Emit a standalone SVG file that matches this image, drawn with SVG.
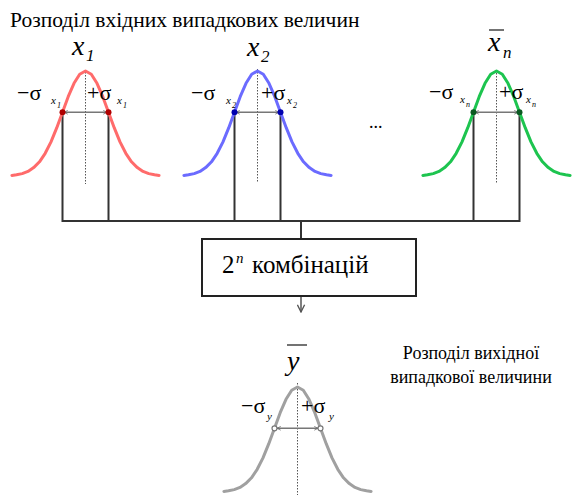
<svg xmlns="http://www.w3.org/2000/svg" width="572" height="495" viewBox="0 0 572 495" font-family="Liberation Serif, serif">
<defs>
<path id="gauss" d="M-73.6,-0.6 L-69,-1.2 L-63.3,-2.4 L-57.5,-4.6 L-51.8,-8.4 L-46,-14.2 L-40.3,-22.7 L-34.5,-34.1 L-28.8,-48.1 L-23,-63.7 L-17.3,-79.3 L-11.5,-92.7 L-5.8,-101.8 L0,-105 L5.8,-101.8 L11.5,-92.7 L17.3,-79.3 L23,-63.7 L28.8,-48.1 L34.5,-34.1 L40.3,-22.7 L46,-14.2 L51.8,-8.4 L57.5,-4.6 L63.3,-2.4 L69,-1.2 L73.6,-0.6"/>
<marker id="ahe" viewBox="0 0 8 8" refX="7" refY="4" markerWidth="5" markerHeight="5" orient="auto" markerUnits="userSpaceOnUse">
<path d="M1,1 L7,4 L1,7" fill="none" stroke="#666" stroke-width="1.2"/>
</marker>
<marker id="ahs" viewBox="0 0 8 8" refX="1" refY="4" markerWidth="5" markerHeight="5" orient="auto" markerUnits="userSpaceOnUse">
<path d="M7,1 L1,4 L7,7" fill="none" stroke="#666" stroke-width="1.2"/>
</marker>
<marker id="arr" viewBox="0 0 10 10" refX="9" refY="5" markerWidth="9" markerHeight="9" orient="auto" markerUnits="userSpaceOnUse">
<path d="M1,1 L9,5 L1,9" fill="none" stroke="#555" stroke-width="1.5"/>
</marker>
</defs>

<text id="title" x="10" y="27" font-family="Liberation Serif, serif" font-size="21.5">Розподіл вхідних випадкових величин</text>

<g id="connectors" fill="none" stroke="#333" stroke-width="2">
<polyline points="62.5,112 62.5,221 519.5,221 519.5,112"/>
<line x1="108.5" y1="112" x2="108.5" y2="221"/>
<line x1="234.5" y1="112" x2="234.5" y2="221"/>
<line x1="280.5" y1="112" x2="280.5" y2="221"/>
<line x1="473.5" y1="112" x2="473.5" y2="221"/>
<line x1="301" y1="221" x2="301" y2="239"/>
<line x1="301" y1="297" x2="301" y2="312" stroke="#555" stroke-width="1.5" marker-end="url(#arr)"/>
</g>

<g id="x1">
<line x1="85.5" y1="72" x2="85.5" y2="184" stroke="#555" stroke-width="1" stroke-dasharray="1.5 1.5"/>
<use href="#gauss" transform="translate(85.5,176)" fill="none" stroke="#FF6B6B" stroke-width="3" stroke-linejoin="round" stroke-linecap="round"/>
<line x1="64" y1="112.3" x2="107" y2="112.3" stroke="#777" stroke-width="1.6" marker-start="url(#ahs)" marker-end="url(#ahe)"/>
<circle cx="62.5" cy="112.3" r="3" fill="#B00000"/>
<circle cx="108.5" cy="112.3" r="3" fill="#B00000"/>
<text x="72" y="55" font-family="Liberation Serif, serif" font-size="28" font-style="italic">x</text>
<text x="86" y="61" font-family="Liberation Serif, serif" font-size="17" font-style="italic">1</text>
<text x="17" y="100" font-family="Liberation Serif, serif" font-size="22">−σ</text>
<text x="51" y="104" font-family="Liberation Serif, serif" font-size="11" font-style="italic">x</text>
<text x="57" y="108" font-family="Liberation Serif, serif" font-size="8" font-style="italic">1</text>
<text x="87" y="100" font-family="Liberation Serif, serif" font-size="22">+σ</text>
<text x="117" y="104" font-family="Liberation Serif, serif" font-size="11" font-style="italic">x</text>
<text x="123" y="108" font-family="Liberation Serif, serif" font-size="8" font-style="italic">1</text>
</g>

<g id="x2">
<line x1="257.5" y1="69" x2="257.5" y2="183" stroke="#555" stroke-width="1" stroke-dasharray="1.5 1.5"/>
<use href="#gauss" transform="translate(257.5,176)" fill="none" stroke="#6B6BFF" stroke-width="3" stroke-linejoin="round" stroke-linecap="round"/>
<line x1="236" y1="112.3" x2="279" y2="112.3" stroke="#777" stroke-width="1.6" marker-start="url(#ahs)" marker-end="url(#ahe)"/>
<circle cx="234.5" cy="112.3" r="3" fill="#0000B0"/>
<circle cx="280.5" cy="112.3" r="3" fill="#0000B0"/>
<text x="247" y="56" font-family="Liberation Serif, serif" font-size="28" font-style="italic">x</text>
<text x="261" y="62" font-family="Liberation Serif, serif" font-size="17" font-style="italic">2</text>
<text x="191" y="100" font-family="Liberation Serif, serif" font-size="22">−σ</text>
<text x="226" y="104" font-family="Liberation Serif, serif" font-size="11" font-style="italic">x</text>
<text x="232" y="108" font-family="Liberation Serif, serif" font-size="8" font-style="italic">2</text>
<text x="261" y="100" font-family="Liberation Serif, serif" font-size="22">+σ</text>
<text x="287" y="104" font-family="Liberation Serif, serif" font-size="11" font-style="italic">x</text>
<text x="293" y="108" font-family="Liberation Serif, serif" font-size="8" font-style="italic">2</text>
</g>

<text id="ellipsis" x="369" y="128" font-family="Liberation Serif, serif" font-size="18">...</text>

<g id="xn">
<line x1="496.5" y1="70" x2="496.5" y2="184" stroke="#555" stroke-width="1" stroke-dasharray="1.5 1.5"/>
<use href="#gauss" transform="translate(496.5,176)" fill="none" stroke="#1DC44F" stroke-width="3" stroke-linejoin="round" stroke-linecap="round"/>
<line x1="475" y1="112.3" x2="518" y2="112.3" stroke="#777" stroke-width="1.6" marker-start="url(#ahs)" marker-end="url(#ahe)"/>
<circle cx="473.5" cy="112.3" r="3" fill="#0B5A22"/>
<circle cx="519.5" cy="112.3" r="3" fill="#0B5A22"/>
<line x1="489" y1="30" x2="504" y2="30" stroke="#444" stroke-width="1.5"/>
<text x="488" y="51" font-family="Liberation Serif, serif" font-size="28" font-style="italic">x</text>
<text x="503" y="58" font-family="Liberation Serif, serif" font-size="17" font-style="italic">n</text>
<text x="429" y="99" font-family="Liberation Serif, serif" font-size="22">−σ</text>
<text x="460" y="103" font-family="Liberation Serif, serif" font-size="11" font-style="italic">x</text>
<text x="466" y="107" font-family="Liberation Serif, serif" font-size="8" font-style="italic">n</text>
<text x="499" y="99" font-family="Liberation Serif, serif" font-size="22">+σ</text>
<text x="526" y="103" font-family="Liberation Serif, serif" font-size="11" font-style="italic">x</text>
<text x="532" y="107" font-family="Liberation Serif, serif" font-size="8" font-style="italic">n</text>
</g>

<g id="combos">
<rect x="202" y="239" width="214" height="57" fill="#fff" stroke="#222" stroke-width="2"/>
<text x="222" y="273" font-family="Liberation Serif, serif" font-size="25">2</text>
<text x="236" y="263" font-family="Liberation Serif, serif" font-size="15" font-style="italic">n</text>
<text x="252" y="273" font-family="Liberation Serif, serif" font-size="25">комбінацій</text>
</g>

<g id="y">
<line x1="297.5" y1="383" x2="297.5" y2="495" stroke="#555" stroke-width="1" stroke-dasharray="1.5 1.5"/>
<use href="#gauss" transform="translate(297.5,492)" fill="none" stroke="#A0A0A0" stroke-width="3" stroke-linejoin="round" stroke-linecap="round"/>
<line x1="277" y1="428.3" x2="318" y2="428.3" stroke="#777" stroke-width="1.6" marker-start="url(#ahs)" marker-end="url(#ahe)"/>
<circle cx="274.5" cy="428.3" r="2.5" fill="#fff" stroke="#777" stroke-width="1.2"/>
<circle cx="320.5" cy="428.3" r="2.5" fill="#fff" stroke="#777" stroke-width="1.2"/>
<line x1="287" y1="345" x2="307" y2="345" stroke="#444" stroke-width="1.5"/>
<text x="287" y="370" font-family="Liberation Serif, serif" font-size="28" font-style="italic">y</text>
<text x="241" y="413" font-family="Liberation Serif, serif" font-size="22">−σ</text>
<text x="267" y="420" font-family="Liberation Serif, serif" font-size="11" font-style="italic">y</text>
<text x="301" y="413" font-family="Liberation Serif, serif" font-size="22">+σ</text>
<text x="329" y="420" font-family="Liberation Serif, serif" font-size="11" font-style="italic">y</text>
</g>

<g id="out-label">
<text x="471" y="359" font-family="Liberation Serif, serif" font-size="18" text-anchor="middle">Розподіл вихідної</text>
<text x="471" y="383" font-family="Liberation Serif, serif" font-size="18" text-anchor="middle">випадкової величини</text>
</g>
</svg>
